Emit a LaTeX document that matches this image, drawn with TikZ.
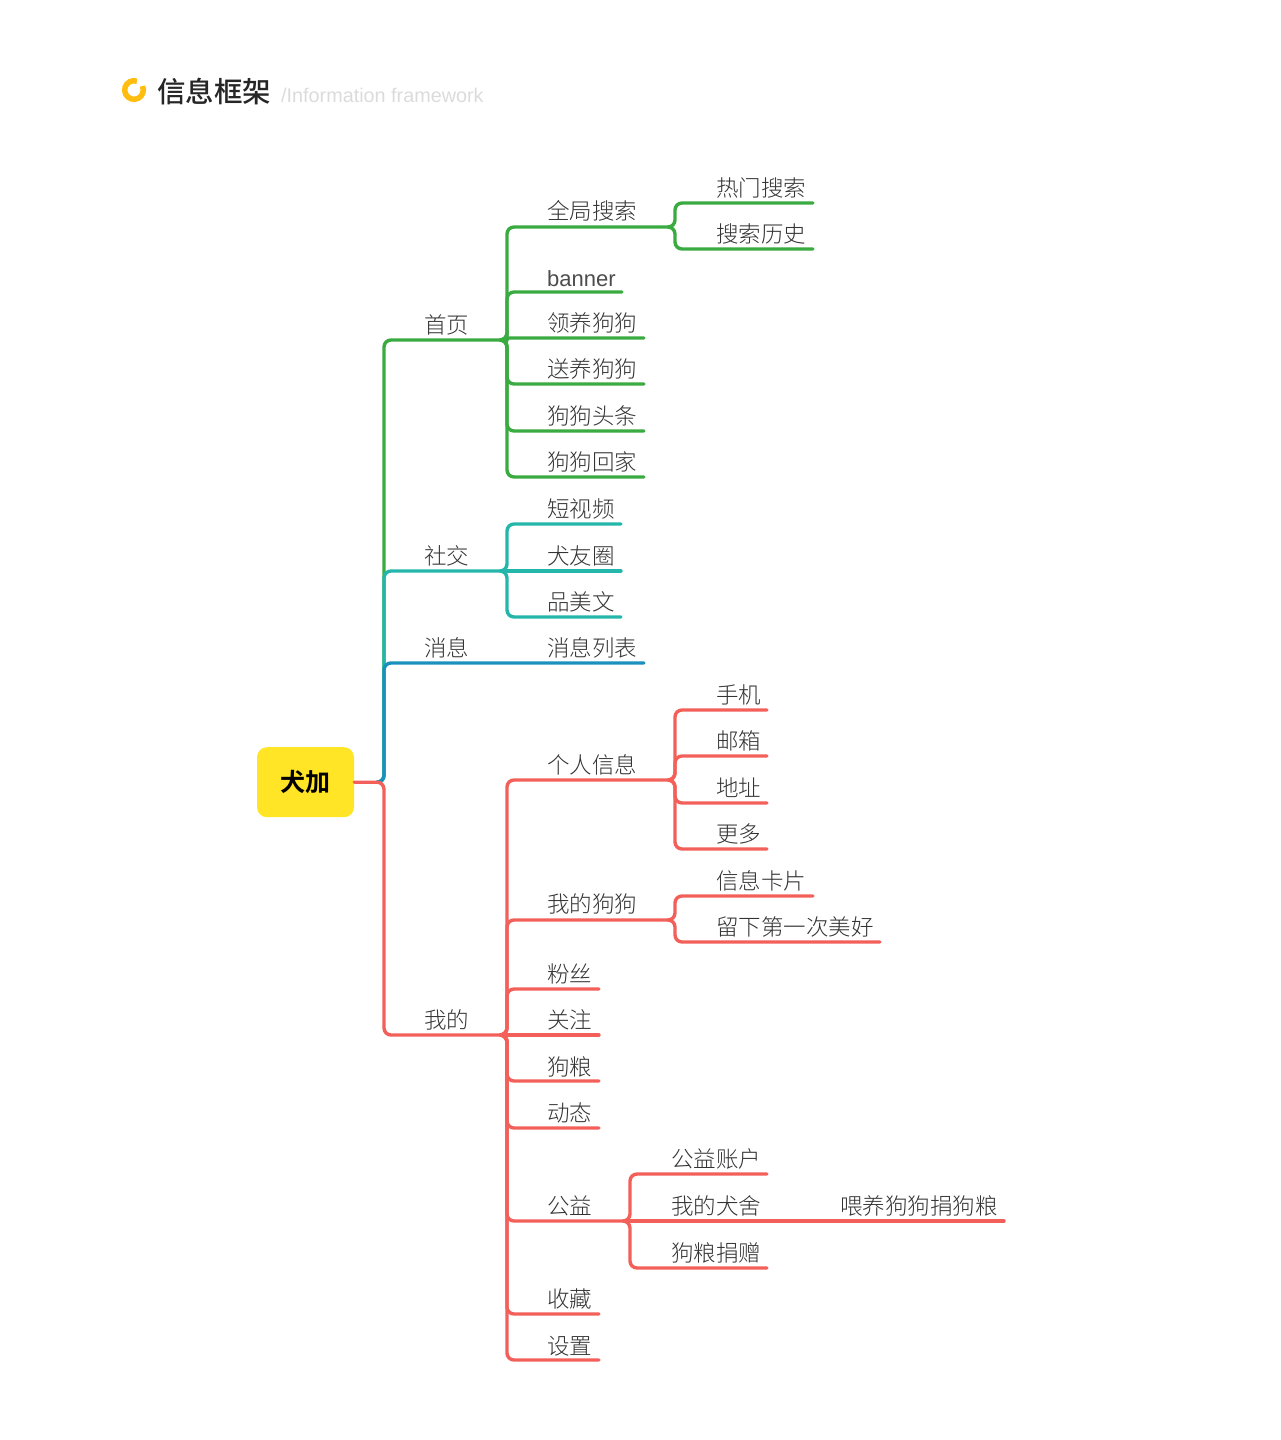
\documentclass[tikz,border=0pt]{standalone}
\usepackage{fontspec}
\newfontfamily\cjk{Noto Sans CJK SC Light}
\newfontfamily\cjkm{Noto Sans CJK SC Medium}
\newfontfamily\cjkb{Noto Sans CJK SC Bold}
\newfontfamily\latn{Liberation Sans}
\definecolor{grn}{HTML}{3AAB40}
\definecolor{tea}{HTML}{24B6AB}
\definecolor{blu}{HTML}{1A90BC}
\definecolor{rdd}{HTML}{F3605A}
\definecolor{yel}{HTML}{FFE526}
\definecolor{rng}{HTML}{FFBE0F}
\tikzset{
  lab/.style={anchor=base west,inner sep=0pt,yshift=-1.1pt,text=black!80,font=\cjk\fontsize{22.5}{24}\selectfont},
  br/.style={line width=3.4pt,rounded corners=7pt,line cap=round}
}
\begin{document}
\begin{tikzpicture}[x=1pt,y=-1pt]
\useasboundingbox (0,0) rectangle (1280,1440);
% title
\draw[rng,line width=5.5pt] (134,90) ++(-72:9.3) arc[start angle=-72,end angle=-385,radius=9.3];
\path (157,102) node[anchor=base west,inner sep=0pt,text=black!85,font=\cjkm\fontsize{28.5}{30}\selectfont] (TT){信息框架};
\path (281,102) node[anchor=base west,inner sep=0pt,text=black!14,font=\latn\fontsize{19.8}{21}\selectfont] (TE){/Information framework};

\path (305.5,782.2) node[fill=yel,rounded corners=10pt,minimum width=97pt,minimum height=70pt,inner sep=0pt,font=\cjkb\fontsize{25}{27}\selectfont] (R){\raisebox{-1pt}{犬加}};

% first level
\coordinate (Rj) at (377,782.2);
\coordinate (Hj) at (503,340);
\coordinate (Hk) at (507,340);
\coordinate (Sj) at (503,571);
\coordinate (Sk) at (507,571);
\coordinate (Me) at (644,663);
\coordinate (Mj) at (503,1035);
\coordinate (Mk) at (507,1035);
\coordinate (Ht) at (384,340);
\coordinate (St) at (384,571);
\coordinate (Mt) at (384,663);
\coordinate (Wt) at (384,1035);
\draw[br,grn] (Rj) -| (Ht) -- (Hj);
\draw[br,tea] (Rj) -| (St) -- (Sj);
\draw[br,blu] (Rj) -| (Mt) -- (Me);
\draw[br,rdd] (R.east) -| (Wt) -- (Mj);
\path (424,332) node[lab] (H){首页};
\path (424,563) node[lab] (S){社交};
\path (424,655) node[lab] (M){消息};
\path (547,655) node[lab] (ML){消息列表};
\path (424,1027) node[lab] (W){我的};

% home
\coordinate (HSj) at (671,227);
\coordinate (HSk) at (675,227);
\draw[br,grn] (Hj) -| (Hk |- HSj) -- (HSj);
\path (547,218) node[lab] (HS){全局搜索};
\coordinate (HSAe) at (813,203);
\draw[br,grn] (HSj) -| (HSk |- HSAe) -- (HSAe);
\path (716,195) node[lab] (HSA){热门搜索};
\coordinate (HSBe) at (813,249);
\draw[br,grn] (HSj) -| (HSk |- HSBe) -- (HSBe);
\path (716,241) node[lab] (HSB){搜索历史};
\coordinate (HBe) at (622,292);
\draw[br,grn] (Hj) -| (Hk |- HBe) -- (HBe);
\path (547,285) node[lab,text=black!70,font=\latn\fontsize{22}{24}\selectfont] (HB){banner};
\coordinate (HCe) at (644,338);
\draw[br,grn,rounded corners=2pt] (Hj) -| (Hk |- HCe) -- (HCe);
\path (547,330) node[lab] (HC){领养狗狗};
\coordinate (HDe) at (644,384);
\draw[br,grn] (Hj) -| (Hk |- HDe) -- (HDe);
\path (547,376) node[lab] (HD){送养狗狗};
\coordinate (HEe) at (644,431);
\draw[br,grn] (Hj) -| (Hk |- HEe) -- (HEe);
\path (547,423) node[lab] (HE){狗狗头条};
\coordinate (HFe) at (644,477);
\draw[br,grn] (Hj) -| (Hk |- HFe) -- (HFe);
\path (547,469) node[lab] (HF){狗狗回家};

% social
\coordinate (SAe) at (621,524);
\draw[br,tea] (Sj) -| (Sk |- SAe) -- (SAe);
\path (547,516) node[lab] (SA){短视频};
\coordinate (SBe) at (621,571);
\draw[br,tea] (Sj) -- (SBe);
\path (547,563) node[lab] (SB){犬友圈};
\coordinate (SCe) at (621,617);
\draw[br,tea] (Sj) -| (Sk |- SCe) -- (SCe);
\path (547,609) node[lab] (SC){品美文};

% mine
\coordinate (WAj) at (671,780);
\coordinate (WAk) at (675,780);
\draw[br,rdd] (Mj) -| (Mk |- WAj) -- (WAj);
\path (547,772) node[lab] (WA){个人信息};
\coordinate (WAAe) at (767,710);
\draw[br,rdd] (WAj) -| (WAk |- WAAe) -- (WAAe);
\path (716,702) node[lab] (WAA){手机};
\coordinate (WABe) at (767,756);
\draw[br,rdd] (WAj) -| (WAk |- WABe) -- (WABe);
\path (716,748) node[lab] (WAB){邮箱};
\coordinate (WACe) at (767,803);
\draw[br,rdd] (WAj) -| (WAk |- WACe) -- (WACe);
\path (716,795) node[lab] (WAC){地址};
\coordinate (WADe) at (767,849);
\draw[br,rdd] (WAj) -| (WAk |- WADe) -- (WADe);
\path (716,841) node[lab] (WAD){更多};

\coordinate (WBj) at (671,920);
\coordinate (WBk) at (675,920);
\draw[br,rdd] (Mj) -| (Mk |- WBj) -- (WBj);
\path (547,911) node[lab] (WB){我的狗狗};
\coordinate (WBAe) at (813,896);
\draw[br,rdd] (WBj) -| (WBk |- WBAe) -- (WBAe);
\path (716,888) node[lab] (WBA){信息卡片};
\coordinate (WBBe) at (880,942);
\draw[br,rdd] (WBj) -| (WBk |- WBBe) -- (WBBe);
\path (716,934) node[lab] (WBB){留下第一次美好};

\coordinate (WCe) at (599,989);
\draw[br,rdd] (Mj) -| (Mk |- WCe) -- (WCe);
\path (547,981) node[lab] (WC){粉丝};
\coordinate (WDe) at (599,1035);
\draw[br,rdd] (Mj) -- (WDe);
\path (547,1027) node[lab] (WD){关注};
\coordinate (WEe) at (599,1081);
\draw[br,rdd] (Mj) -| (Mk |- WEe) -- (WEe);
\path (547,1074) node[lab] (WE){狗粮};
\coordinate (WFe) at (599,1128);
\draw[br,rdd] (Mj) -| (Mk |- WFe) -- (WFe);
\path (547,1120) node[lab] (WF){动态};

\coordinate (WGj) at (626,1221);
\coordinate (WGk) at (630,1221);
\draw[br,rdd] (Mj) -| (Mk |- WGj) -- (WGj);
\path (547,1213) node[lab] (WG){公益};
\coordinate (WGAe) at (767,1174);
\draw[br,rdd] (WGj) -| (WGk |- WGAe) -- (WGAe);
\path (671,1166) node[lab] (WGA){公益账户};
\coordinate (WGBe) at (1004,1221);
\draw[br,rdd] (WGj) -- (WGBe);
\path (671,1213) node[lab] (WGB){我的犬舍};
\path (840,1213) node[lab] (WGBA){喂养狗狗捐狗粮};
\coordinate (WGCe) at (767,1268);
\draw[br,rdd] (WGj) -| (WGk |- WGCe) -- (WGCe);
\path (671,1260) node[lab] (WGC){狗粮捐赠};

\coordinate (WHe) at (599,1314);
\draw[br,rdd] (Mj) -| (Mk |- WHe) -- (WHe);
\path (547,1306) node[lab] (WH){收藏};
\coordinate (WIe) at (599,1360);
\draw[br,rdd] (Mj) -| (Mk |- WIe) -- (WIe);
\path (547,1353) node[lab] (WI){设置};
\end{tikzpicture}
\end{document}
